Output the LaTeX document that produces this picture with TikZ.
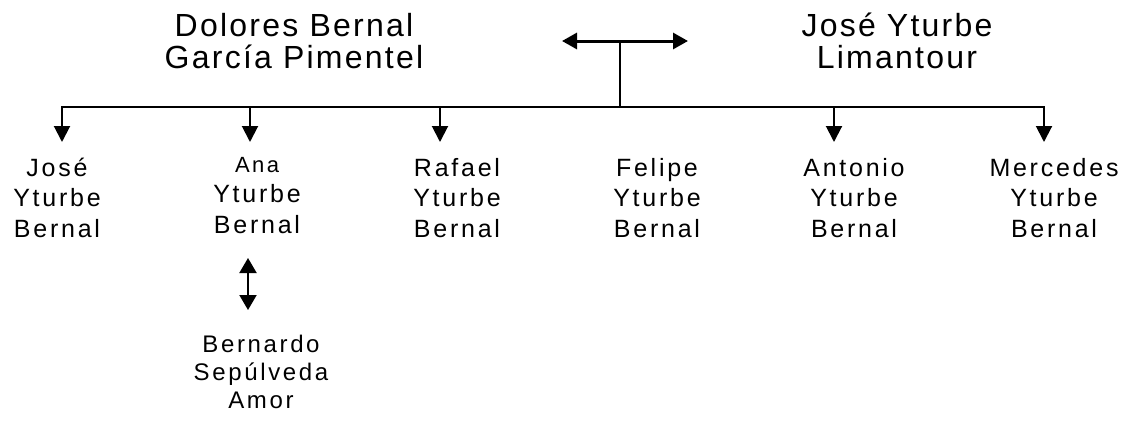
\documentclass[tikz,border=0pt]{standalone}
\usepackage{fontspec}
\setmainfont{Liberation Sans}
\newfontfamily\namefont{Liberation Sans}[LetterSpace=7]
\newfontfamily\kidfont{Liberation Sans}[LetterSpace=11]
\usetikzlibrary{arrows.meta}

\begin{document}
\begin{tikzpicture}[x=1pt,y=-1pt,
  parent/.style={anchor=base,align=center,inner sep=0pt,
    font=\namefont\fontsize{32}{32}\selectfont},
  kid/.style={anchor=base,align=center,inner sep=0pt,
    font=\kidfont\fontsize{25}{30.5}\selectfont},
  bar/.style={line width=1.8pt,line cap=rect},
  down/.style={line width=2pt,-{Triangle[length=16pt,width=16pt]}},
  wed/.style={line width=3pt,{Triangle[length=15pt,width=16pt]}-{Triangle[length=15pt,width=16pt]}},
  spouse/.style={line width=2pt,{Triangle[length=15pt,width=17pt]}-{Triangle[length=15pt,width=17pt]}}]
  \useasboundingbox (0,0) rectangle (1130,426);

  % parents (base = last line)
  \node[parent] (dolores) at (294,68) {Dolores Bernal\\García Pimentel};
  \node[parent] (josep) at (897,68) {José Yturbe\\Limantour};
  \coordinate (wl) at (562,41);
  \coordinate (wr) at (688,41);
  \coordinate (wm) at (620,41);
  \draw[wed] (wl) -- (wr);

  % bar over the children
  \coordinate (b1) at (62,107);
  \coordinate (b2) at (250,107);
  \coordinate (b3) at (440,107);
  \coordinate (b5) at (834,107);
  \coordinate (b6) at (1044,107);
  \draw[bar] (b1) -- (b6);
  \draw[line width=1.8pt] (wm) -- (wm |- b1);

  % children
  \node[kid] (jose) at (57,237) {José\\Yturbe\\Bernal};
  \node[kid] (ana) at (257,233) {{\fontsize{22}{30.5}\selectfont Ana}\\Yturbe\\Bernal};
  \node[kid] (rafael) at (457,237) {Rafael\\Yturbe\\Bernal};
  \node[kid] (felipe) at (657,237) {Felipe\\Yturbe\\Bernal};
  \node[kid] (antonio) at (854,237) {Antonio\\Yturbe\\Bernal};
  \node[kid] (mercedes) at (1054,237) {Mercedes\\Yturbe\\Bernal};

  \foreach \b in {b1,b2,b3,b5,b6}
    \draw[down] (\b) -- ++(0,35);

  % Ana's husband
  \node[kid,font=\kidfont\fontsize{24}{28}\selectfont] (bernardo) at (261,408)
    {Bernardo\\Sepúlveda\\Amor};
  \coordinate (s1) at (248,258);
  \coordinate (s2) at (248,310);
  \draw[spouse] (s1) -- (s2);
\end{tikzpicture}
\end{document}
